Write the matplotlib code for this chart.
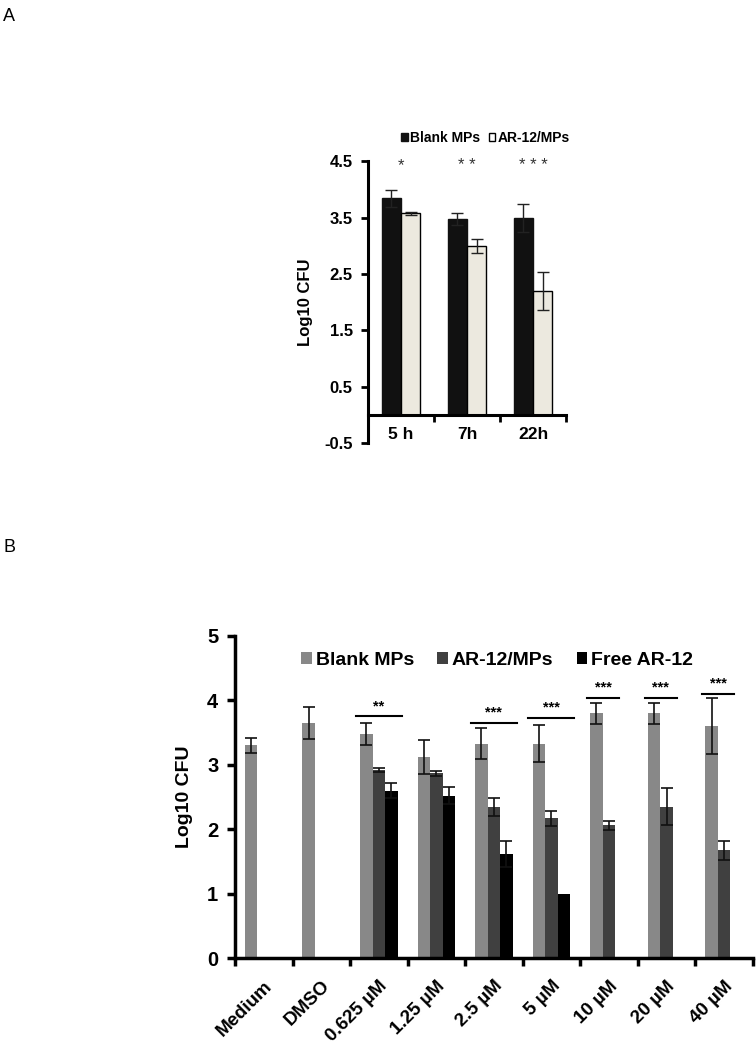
import numpy as np
import matplotlib
matplotlib.use('Agg')
import matplotlib.pyplot as plt
from matplotlib.patches import Patch

plt.rcParams['font.family'] = ['Liberation Sans', 'DejaVu Sans']

# ---- Panel A data
times = ['5 h', '7h', '22h']
blank_a = [3.85, 3.48, 3.50]
blank_a_err = [0.15, 0.10, 0.25]
ar_a = [3.58, 3.00, 2.20]
ar_a_err = [0.03, 0.13, 0.33]
stars_a = ['*', '* *', '* * *']

# ---- Panel B data
groups = ['Medium', 'DMSO', '0.625 µM', '1.25 µM', '2.5 µM', '5 µM', '10 µM', '20 µM', '40 µM']
blank_b = [3.30, 3.65, 3.48, 3.12, 3.33, 3.33, 3.80, 3.80, 3.60]
blank_b_err = [0.11, 0.25, 0.17, 0.27, 0.24, 0.29, 0.16, 0.16, 0.43]
ar_b = [np.nan, np.nan, 2.92, 2.87, 2.34, 2.17, 2.06, 2.35, 1.67]
ar_b_err = [0, 0, 0.03, 0.04, 0.14, 0.12, 0.07, 0.29, 0.15]
free_b = [np.nan, np.nan, 2.60, 2.52, 1.62, 1.00, np.nan, np.nan, np.nan]
free_b_err = [0, 0, 0.11, 0.13, 0.20, 0, 0, 0, 0]
sig_b = ['', '', '**', '', '***', '***', '***', '***', '***']
sig_b_y = [0, 0, 3.75, 0, 3.65, 3.73, 4.04, 4.04, 4.10]

fig = plt.figure(figsize=(7.56, 10.5), dpi=100)

# =================== Panel A ===================
axA = fig.add_axes([0.4868, 0.5781, 0.2619, 0.2681])
x = np.arange(len(times))
w = 0.29
axA.bar(x - w / 2, blank_a, w, color='#111111', edgecolor='#111111', zorder=2,
        yerr=blank_a_err, capsize=4, error_kw=dict(elinewidth=1, capthick=1, ecolor='#222222'))
axA.bar(x + w / 2, ar_a, w, color='#ECE9DF', edgecolor='black', linewidth=1, zorder=2,
        yerr=ar_a_err, capsize=4, error_kw=dict(elinewidth=1, capthick=1, ecolor='#222222'))
for i, s in enumerate(stars_a):
    axA.text(x[i], 4.42, s, ha='center', va='center', fontsize=12, color='#333333')

axA.set_xlim(-0.5, len(times) - 0.5)
axA.set_ylim(-0.5, 4.5)
axA.set_yticks([-0.5, 0.5, 1.5, 2.5, 3.5, 4.5])
axA.set_yticklabels(['-0.5', '0.5', '1.5', '2.5', '3.5', '4.5'], fontsize=12, fontweight='bold')
axA.spines['bottom'].set_position(('data', 0))
axA.spines['top'].set_visible(False)
axA.spines['right'].set_visible(False)
axA.spines['left'].set_linewidth(2.2)
axA.spines['bottom'].set_linewidth(2.2)
axA.set_xticks(np.arange(len(times) + 1) - 0.5)
axA.set_xticklabels([])
axA.set_xticks(x, minor=True)
axA.set_xticklabels(times, minor=True, fontsize=12.5, fontweight='bold')
axA.tick_params(axis='x', which='major', direction='out', length=5, width=2)
axA.tick_params(axis='x', which='minor', length=0, pad=9)
axA.tick_params(axis='y', direction='out', length=5, width=2, pad=6)
axA.set_ylabel('Log10 CFU', fontsize=12, fontweight='bold', labelpad=8)

handles_a = [Patch(facecolor='#111111', edgecolor='#111111'),
             Patch(facecolor='white', edgecolor='black')]
axA.legend(handles_a, ['Blank MPs', 'AR-12/MPs'], loc='center', bbox_to_anchor=(0.593, 1.083),
           ncol=2, frameon=False, prop=dict(size=10, weight='bold'),
           handlelength=0.5, handleheight=0.5, handletextpad=0.15, columnspacing=0.6)

# =================== Panel B ===================
axB = fig.add_axes([0.3108, 0.0876, 0.685, 0.3067])
xb = np.arange(len(groups))
wb = 0.218
ek = dict(elinewidth=1.2, capthick=1.2, ecolor='#111111')
axB.bar(xb - wb, blank_b, wb, color='#888888', yerr=blank_b_err, capsize=4, error_kw=ek, zorder=2)
axB.bar(xb, ar_b, wb, color='#404040', yerr=ar_b_err, capsize=4, error_kw=ek, zorder=2)
free_err_show = [e if e > 0 else np.nan for e in free_b_err]
axB.bar(xb + wb, free_b, wb, color='#000000', zorder=2)
axB.errorbar(xb + wb, free_b, yerr=free_err_show, fmt='none', capsize=4, **ek, zorder=3)

for i, s in enumerate(sig_b):
    if not s:
        continue
    if np.isnan(free_b[i]):
        x0, x1 = xb[i] - 0.38, xb[i] + 0.18
    else:
        x0, x1 = xb[i] - 0.4, xb[i] + 0.4
    axB.plot([x0, x1], [sig_b_y[i], sig_b_y[i]], color='black', lw=1.5, zorder=3)
    axB.text((x0 + x1) / 2, sig_b_y[i] + 0.05, s, ha='center', va='bottom',
             fontsize=10.5, fontweight='bold')

axB.set_xlim(-0.5, len(groups) - 0.5)
axB.set_ylim(0, 5)
axB.set_yticks([0, 1, 2, 3, 4, 5])
axB.set_yticklabels(['0', '1', '2', '3', '4', '5'], fontsize=14.5, fontweight='bold')
axB.spines['top'].set_visible(False)
axB.spines['right'].set_visible(False)
axB.spines['left'].set_linewidth(2.5)
axB.spines['bottom'].set_linewidth(2.5)
axB.set_xticks(np.arange(len(groups) + 1) - 0.5)
axB.set_xticklabels([])
axB.set_xticks(xb, minor=True)
axB.set_xticklabels(groups, minor=True, rotation=45, ha='right', rotation_mode='anchor',
                    fontsize=13.5, fontweight='bold')
axB.tick_params(axis='x', which='major', direction='out', length=6, width=2.5)
axB.tick_params(axis='x', which='minor', length=0, pad=14)
axB.tick_params(axis='y', direction='out', length=6, width=2.5, pad=6)
axB.set_ylabel('Log10 CFU', fontsize=14, fontweight='bold', labelpad=10)

handles_b = [Patch(facecolor='#888888'), Patch(facecolor='#404040'), Patch(facecolor='#000000')]
axB.legend(handles_b, ['Blank MPs', 'AR-12/MPs', 'Free AR-12'], loc='center',
           bbox_to_anchor=(0.506, 0.925), ncol=3, frameon=False,
           prop=dict(size=14, weight='bold'), handlelength=0.55, handleheight=0.55,
           handletextpad=0.2, columnspacing=1.2)

fig.text(0.004, 0.992, 'A', fontsize=13, ha='left', va='top')
fig.text(0.004, 0.487, 'B', fontsize=13, ha='left', va='top')

fig.savefig('out.png', dpi=100)
